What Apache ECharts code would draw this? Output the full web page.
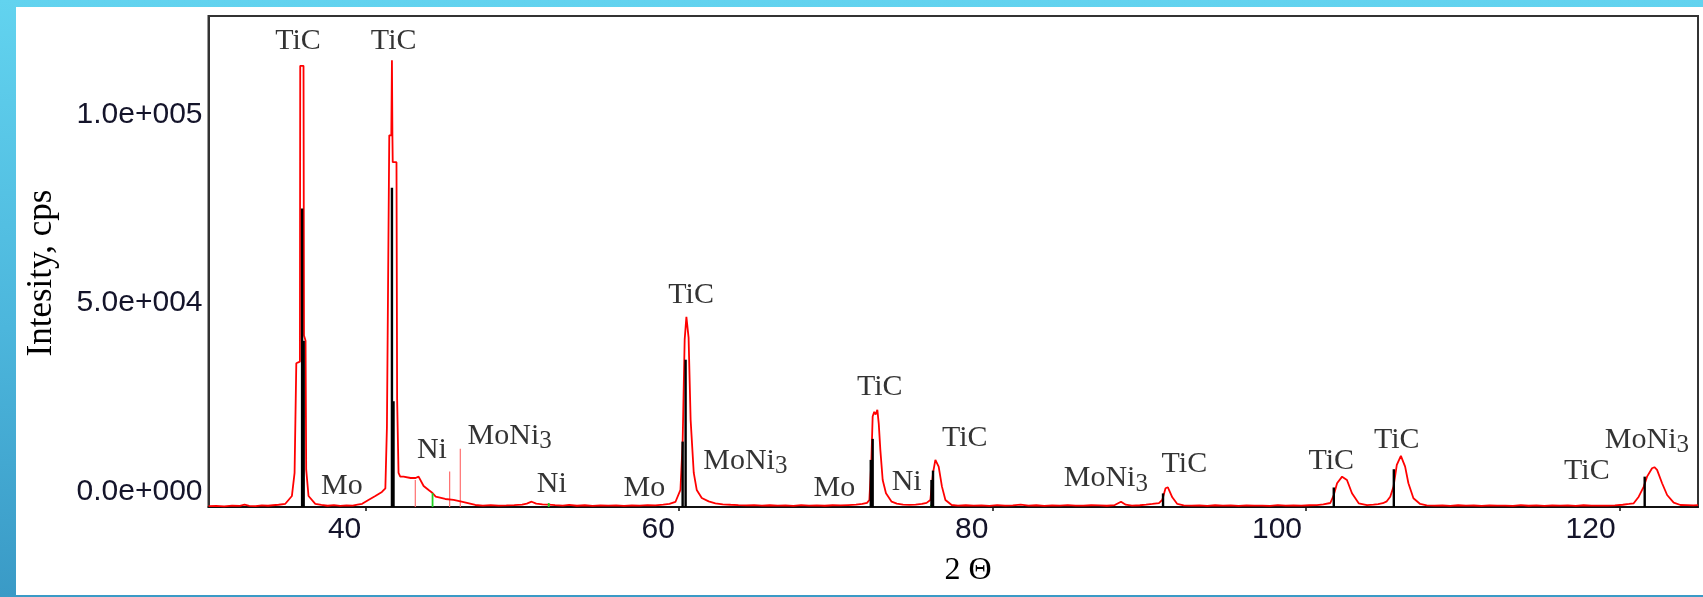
<!DOCTYPE html>
<html><head><meta charset="utf-8">
<script src="https://cdn.jsdelivr.net/npm/echarts@6/dist/echarts.min.js"></script>
<style>
html,body{margin:0;padding:0;width:1703px;height:597px;overflow:hidden;}
body{background:linear-gradient(180deg,#62d3ef 0%,#4cb6dc 55%,#3a9ac6 100%);position:relative;}
#panel{position:absolute;left:16px;top:7px;right:0;bottom:2px;background:#fff;}
#chart{position:absolute;left:0;top:0;width:1703px;height:597px;}
</style></head><body><div id="panel"></div><div id="chart"></div>
<script>
// Measured pattern (2θ, cps)
const twoTheta = [30.0,30.5,31.0,31.5,32.0,32.3,32.6,33.0,33.4,33.8,34.1,34.47,34.9,35.32,35.49,35.60,35.83,35.85,36.06,36.09,36.19,36.23,36.38,36.81,37.2,37.6,38.0,38.4,38.8,39.2,39.5,39.8,40.2,40.64,41.06,41.28,41.38,41.53,41.66,41.70,41.73,41.75,41.99,42.03,42.12,42.23,42.44,42.89,43.21,43.40,43.72,44.04,44.29,44.49,45.10,45.63,46.14,47.02,47.5,48.0,48.5,49.0,49.5,50.0,50.3,50.61,50.9,51.3,51.7,52.1,52.6,53.0,53.5,54.0,54.5,55.0,55.5,56.0,56.5,57.0,57.5,58.0,58.5,59.0,59.4,59.78,60.10,60.24,60.37,60.48,60.62,60.75,60.95,61.14,61.46,61.9,62.33,62.8,63.3,63.8,64.3,64.8,65.3,65.8,66.3,66.8,67.3,67.8,68.3,68.8,69.3,69.8,70.3,70.8,71.3,71.7,72.0,72.15,72.28,72.36,72.46,72.55,72.66,72.75,72.85,73.00,73.21,73.57,73.9,74.3,74.7,75.1,75.5,75.8,76.04,76.21,76.36,76.45,76.57,76.78,77.00,77.4,77.8,78.3,78.8,79.3,79.8,80.3,80.8,81.3,81.8,82.3,82.8,83.3,83.8,84.3,84.8,85.3,85.8,86.3,86.8,87.3,87.8,88.2,88.5,88.9,89.4,89.8,90.2,90.62,90.83,91.04,91.19,91.26,91.47,91.79,92.2,92.7,93.2,93.7,94.2,94.7,95.2,95.7,96.2,96.7,97.2,97.7,98.2,98.7,99.2,99.7,100.2,100.7,101.1,101.55,101.77,101.98,102.30,102.61,102.93,103.36,103.89,104.3,104.6,104.9,105.15,105.37,105.58,105.79,106.05,106.32,106.53,106.85,107.28,107.7,108.2,108.7,109.2,109.7,110.2,110.7,111.2,111.7,112.2,112.7,113.2,113.7,114.2,114.7,115.2,115.7,116.2,116.7,117.2,117.7,118.2,118.7,119.2,119.7,120.2,120.6,120.9,121.22,121.54,121.75,122.07,122.22,122.39,122.71,123.03,123.45,123.88,124.3,124.7,125.0];
const intensity = [250,320,180,360,290,650,310,240,420,330,460,600,850,2920,9020,38050,38500,116800,116800,45400,44000,9950,2920,850,560,330,470,290,410,340,620,850,1860,2920,3980,4910,21090,98400,98400,118300,98400,91300,91300,28650,9020,8040,8040,7680,7680,8040,5570,4510,3710,2740,2120,1860,1400,530,380,470,340,420,510,620,900,1400,880,690,650,480,390,560,330,460,280,410,370,440,290,420,340,510,440,620,820,1330,4510,16980,44300,50330,44840,23080,9020,4510,2390,1500,980,720,590,510,440,520,390,460,340,410,290,470,350,420,330,460,410,520,610,800,1100,1860,12470,23960,25200,24500,25730,22000,15120,7160,3630,1400,900,650,540,610,800,1100,1860,9020,12470,12200,10690,5390,1860,530,390,460,340,420,290,470,360,410,620,340,460,290,410,350,470,390,340,460,410,330,520,1400,610,390,460,620,800,1000,1860,4960,5230,4510,2570,800,440,350,420,290,460,340,410,310,440,360,390,300,470,340,420,360,460,510,700,1060,3180,6290,8040,7160,3630,980,500,610,760,1000,1500,2730,5390,11140,13530,10690,6290,2310,800,450,340,420,290,460,350,400,310,440,360,390,320,470,330,410,300,450,370,420,310,460,340,390,360,440,600,800,980,2730,5390,8040,10270,10530,9820,6290,3180,1140,530,500,440,500];

// Reference sticks
const ticTheta  = [35.97,36.07,41.70,41.80,60.24,60.43,72.24,72.36,76.11,76.21,90.88,101.77,105.60,121.60];
const ticHeight = [79060,44000,84550,28000,17320,39000,12470,18040,7160,9630,3600,5170,10000,8040];
const moni3Theta  = [43.19,45.38,46.06];
const moni3Height = [7160,9370,15390];
const niTheta  = [44.29,51.70,76.08];
const niHeight = [3710,1060,600];

// Phase annotations
const annText = ['TiC','TiC','Mo','Ni','MoNi3','Ni','Mo','TiC','MoNi3','Mo','TiC','Ni','TiC','MoNi3','TiC','TiC','TiC','TiC','MoNi3'];
const annTheta = [35.71,41.81,38.51,44.25,49.21,51.89,57.80,60.78,64.24,69.92,72.81,74.53,78.23,87.23,92.24,101.61,105.79,117.91,121.74];
const annIntensity = [123370,123370,5570,15120,18840,6100,5040,55980,12200,5040,31840,6710,18310,7690,11410,12200,17780,9370,17780];

// Axis ticks
const xTickValues = [40,60,80,100,120];
const yTickValues = [0,50000,100000];

const chart = echarts.init(document.getElementById('chart'), null, {renderer:'canvas'});

function stickSeries(theta, height, color, width, z) {
  return {
    type:'custom', z:z, clip:true, silent:true,
    data: theta.map((t,i)=>[t,height[i]]),
    encode:{x:0,y:1},
    renderItem:(params, api)=>{
      const p0 = api.coord([api.value(0),0]);
      const p1 = api.coord([api.value(0),api.value(1)]);
      return {type:'line', shape:{x1:p0[0],y1:p0[1],x2:p1[0],y2:p1[1]}, style:{stroke:color, lineWidth:width}};
    }
  };
}

function fmtExp(v){
  const parts = v.toExponential(1).split('e');
  const e = parts[1];
  return parts[0] + 'e' + e[0] + e.slice(1).padStart(3,'0');
}

const serif = 'Liberation Serif, Times New Roman, serif';
const option = {
  animation:false,
  backgroundColor:'transparent',
  grid:{left:208.5, right:5, top:16, bottom:90, show:true, borderColor:'#333', borderWidth:2, backgroundColor:'transparent', containLabel:false},
  xAxis:{
    type:'value', min:30, max:125,
    axisLine:{show:true, lineStyle:{color:'#111', width:2}},
    axisTick:{show:true, inside:false, length:4, customValues:xTickValues, lineStyle:{color:'#111', width:1.5}},
    axisLabel:{customValues:xTickValues, align:'right', padding:[0,4,0,0], margin:8, color:'#14142a', fontFamily:'Liberation Sans, Arial, sans-serif', fontSize:30},
    splitLine:{show:false}
  },
  yAxis:{
    type:'value', min:0, max:130000,
    axisLine:{show:true, lineStyle:{color:'#333', width:2}},
    axisTick:{show:false},
    axisLabel:{customValues:yTickValues, formatter:fmtExp, verticalAlign:'bottom', margin:6, color:'#14142a', fontFamily:'Liberation Sans, Arial, sans-serif', fontSize:30},
    splitLine:{show:false}
  },
  graphic:[
    {type:'text', x:42, y:273, rotation:Math.PI/2, style:{text:'Intesity, cps', x:0, y:0, align:'center', verticalAlign:'middle', fill:'#000', font:'35px "Liberation Serif", "Times New Roman", serif'}},
    {type:'text', x:968, y:571, style:{text:'2 Θ', align:'center', verticalAlign:'middle', fill:'#000', font:'32px "Liberation Serif", "Times New Roman", serif'}}
  ],
  series:[
    stickSeries(moni3Theta, moni3Height, '#ff6f6f', 1.2, 1),
    {
      type:'line', z:2, showSymbol:false, symbol:'none', clip:true, silent:true,
      data: twoTheta.map((t,i)=>[t,intensity[i]]),
      lineStyle:{color:'#ff0000', width:1.8}
    },
    stickSeries(niTheta, niHeight, '#1fd01f', 1.8, 3),
    stickSeries(ticTheta, ticHeight, '#000000', 2.4, 4),
    {
      type:'scatter', z:5, symbolSize:0, silent:true,
      data: annText.map((s,i)=>({name:s, value:[annTheta[i], annIntensity[i]]})),
      label:{
        show:true, position:'inside', color:'#000',
        fontFamily:serif, fontSize:30,
        formatter:(p)=> p.name === 'MoNi3' ? '{m|MoNi}{s|3}' : p.name,
        rich:{
          m:{fontFamily:serif, fontSize:30, color:'#000'},
          s:{fontFamily:serif, fontSize:25, color:'#000', padding:[12,0,0,0]}
        }
      }
    }
  ]
};
chart.setOption(option);
</script></body></html>
